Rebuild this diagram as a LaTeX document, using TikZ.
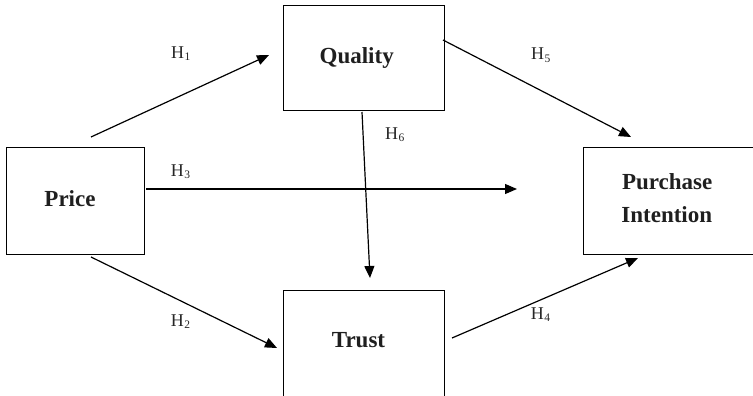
\documentclass[tikz,border=0pt]{standalone}
\usepackage{fontspec}
\setmainfont{Liberation Serif}
\usetikzlibrary{arrows.meta}
% hypothesis label: H with a lowered index
\newcommand{\hyp}[1]{H\kern0.4pt\raisebox{-2pt}{\fontsize{11.5}{12}\selectfont #1}}
\begin{document}
\begin{tikzpicture}[x=1pt,y=-1pt,
  construct/.style={draw, line width=1.2pt, rectangle, inner sep=0pt},
  conname/.style={font=\fontsize{23}{28}\selectfont\bfseries, text=black!88, anchor=base, inner sep=0pt},
  hyplabel/.style={font=\fontsize{18}{20}\selectfont, text=black!85, anchor=base west, inner sep=0pt},
  link/.style={line width=1.2pt, -{Triangle[length=12pt,width=10pt]}}]
\useasboundingbox (0,0) rectangle (753,396);
\clip (0,0) rectangle (753,396);

% construct boxes (Trust and Purchase Intention run past the page edge)
\node[construct, minimum width=161.2pt, minimum height=105pt] (quality) at (364.1,57.8) {};
\node[construct, minimum width=138pt, minimum height=107pt] (price) at (75.3,200.8) {};
\node[construct, minimum width=161.4pt, minimum height=120pt] (trust) at (364,350.7) {};
\node[construct, minimum width=250pt, minimum height=107pt] (purchase) at (708.3,200.8) {};

% construct names
\node[conname] (qualitytxt) at (356.7,63.3) {Quality};
\node[conname] (pricetxt) at (70,206) {Price};
\node[conname] (trusttxt) at (358.5,347.7) {Trust};
\node[conname] (purchasetxt) at (667.2,189.3) {Purchase};
\node[conname] (intentiontxt) at (666.8,222.3) {Intention};

% free ends of the hypothesis arrows
\coordinate (h1s) at (91,137);   \coordinate (h1e) at (269,55);
\coordinate (h2s) at (91,257);   \coordinate (h2e) at (277,348);
\coordinate (h3s) at (146,189);  \coordinate (h3e) at (517,189);
\coordinate (h4s) at (452,338);  \coordinate (h4e) at (638,258);
\coordinate (h5s) at (443,40);   \coordinate (h5e) at (631,137);
\coordinate (h6s) at (362,112);  \coordinate (h6e) at (370,278);

\draw[link] (h1s) -- (h1e);
\draw[link] (h2s) -- (h2e);
\draw[link] (h3s) -- (h3e);
\draw[link] (h4s) -- (h4e);
\draw[link] (h5s) -- (h5e);
\draw[link] (h6s) -- (h6e);

% hypothesis labels
\node[hyplabel] (l1) at (171,59) {\hyp{1}};
\node[hyplabel] (l2) at (170.7,326) {\hyp{2}};
\node[hyplabel] (l3) at (170.7,176) {\hyp{3}};
\node[hyplabel] (l4) at (530.7,319.3) {\hyp{4}};
\node[hyplabel] (l5) at (531,60) {\hyp{5}};
\node[hyplabel] (l6) at (385,139.3) {\hyp{6}};
\end{tikzpicture}
\end{document}
